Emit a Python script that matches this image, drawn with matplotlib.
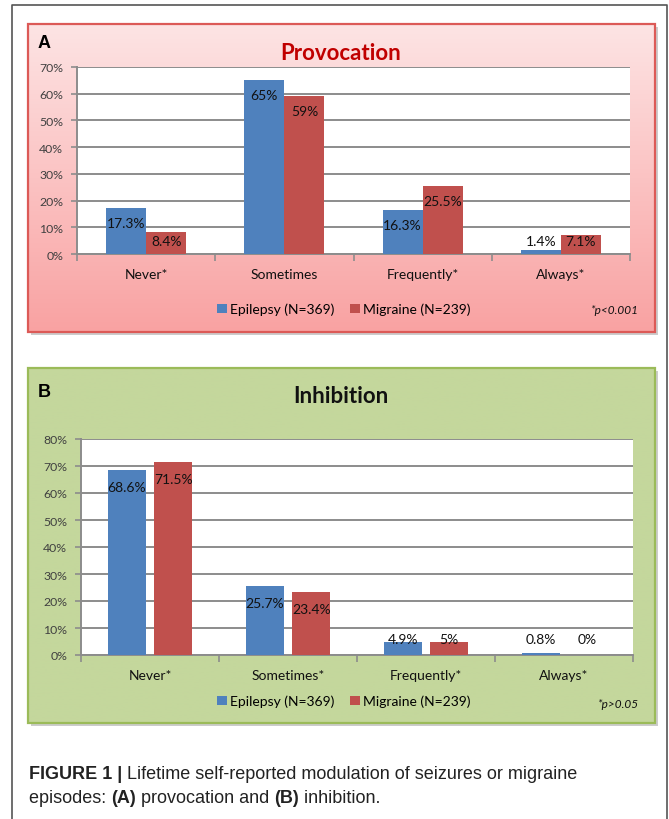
import matplotlib.pyplot as plt
import numpy as np
from matplotlib.patches import Rectangle, Patch
from matplotlib.colors import LinearSegmentedColormap

# data
categories_a = ["Never*", "Sometimes", "Frequently*", "Always*"]
epilepsy_a = [17.3, 65, 16.3, 1.4]
migraine_a = [8.4, 59, 25.5, 7.1]

categories_b = ["Never*", "Sometimes*", "Frequently*", "Always*"]
epilepsy_b = [68.6, 25.7, 4.9, 0.8]
migraine_b = [71.5, 23.4, 5, 0]

series_names = ["Epilepsy (N=369)", "Migraine (N=239)"]

BLUE = "#4f81bd"
RED = "#c0504d"
GRID = "#8c8c8c"
FONT = "Lato"

W, H = 669, 820
fig = plt.figure(figsize=(W / 100, H / 100), dpi=100)


def rect(x0, y0, x1, y1):
    """pixel box (top-left origin) -> figure rect"""
    return [x0 / W, 1 - y1 / H, (x1 - x0) / W, (y1 - y0) / H]


def fx(px):
    return px / W


def fy(py):
    return 1 - py / H


# full-figure helper axes for frame + caption
full = fig.add_axes([0, 0, 1, 1], zorder=-2)
full.set_xlim(0, W)
full.set_ylim(H, 0)
full.axis("off")
full.plot([12, 12, 667, 667], [H + 5, 6, 6, H + 5], color="#555555", lw=1.2)


def panel_box(box, colors, edge):
    x0, y0, x1, y1 = box
    # shadow
    full.add_patch(Rectangle((x0 + 3, y0 + 3), x1 - x0, y1 - y0,
                             fc="#cccccc", ec="none", zorder=1))
    bg = fig.add_axes(rect(*box), zorder=0)
    cmap = LinearSegmentedColormap.from_list("bg", colors)
    bg.imshow(np.linspace(0, 1, 256).reshape(-1, 1), cmap=cmap,
              aspect="auto", extent=[0, 1, 0, 1], origin="upper")
    bg.add_patch(Rectangle((0, 0), 1, 1, transform=bg.transAxes, fill=False,
                           ec=edge, lw=1.6, clip_on=False))
    bg.axis("off")


def bar_panel(plot_box, cats, vals_e, vals_m, ymax, offset, width):
    ax = fig.add_axes(rect(*plot_box), zorder=1)
    ax.set_facecolor("white")
    x = np.arange(len(cats))
    ax.bar(x - offset, vals_e, width, color=BLUE, zorder=3)
    ax.bar(x + offset, vals_m, width, color=RED, zorder=3)
    # data labels, inside end
    for xs, vals in ((x - offset, vals_e), (x + offset, vals_m)):
        for xi, v in zip(xs, vals):
            yl = max(v - 6 * ymax / 75, 5.4 * ymax / 75)
            ax.text(xi, yl, f"{v:g}%", ha="center", va="center",
                    fontsize=10, family=FONT, color="#111111", zorder=4)
    ax.set_xlim(-0.5, len(cats) - 0.5)
    ax.set_ylim(0, ymax)
    ax.set_yticks(np.arange(0, ymax + 1, 10))
    ax.set_yticklabels([f"{t}%" for t in range(0, ymax + 1, 10)])
    ax.yaxis.grid(True, color=GRID, lw=1.4, zorder=0)
    ax.set_axisbelow(True)
    ax.set_xticks(x)
    ax.set_xticklabels(cats)
    ax.set_xticks(np.arange(-0.5, len(cats)), minor=True)
    ax.tick_params(axis="x", which="major", length=0, pad=10, labelsize=10,
                   labelcolor="#111111")
    ax.tick_params(axis="x", which="minor", length=5, color=GRID, width=1.2)
    ax.tick_params(axis="y", length=4, color=GRID, width=1.2, pad=6,
                   labelsize=8.8, labelcolor="#404040")
    for lab in ax.get_xticklabels() + ax.get_yticklabels():
        lab.set_family(FONT)
    for s in ("top", "right"):
        ax.spines[s].set_visible(False)
    for s in ("left", "bottom"):
        ax.spines[s].set_color(GRID)
        ax.spines[s].set_linewidth(1.4)
    return ax


def legend(cx, cy):
    handles = [Patch(fc=BLUE), Patch(fc=RED)]
    fig.legend(handles, series_names, loc="center",
               bbox_to_anchor=(fx(cx), fy(cy)), ncol=2, frameon=False,
               handlelength=0.7, handleheight=0.7, handletextpad=0.25,
               columnspacing=1.1, prop={"family": FONT, "size": 10})


# ------ panel A ------
panel_box((28, 25, 655, 333), ["#fde4e4", "#f9a2a2"], "#dc5a57")
bar_panel((77, 68, 630, 255), categories_a, epilepsy_a, migraine_a, 70,
          0.145, 0.29)
fig.text(fx(38), fy(48), "A", fontsize=13, weight="bold",
         family="Liberation Sans", va="baseline")
fig.text(fx(341), fy(53), "Provocation", fontsize=16, weight="bold",
         family=FONT, color="#c00000", ha="center", va="center")
legend(344, 310)
fig.text(fx(638), fy(311), "*p<0.001", fontsize=8.5, style="italic",
         family=FONT, ha="right", va="center", color="#111111")

# ------ panel B ------
panel_box((28, 369, 655, 724), ["#c4d79c", "#c4d79c"], "#9bbb59")
bar_panel((81, 440, 633, 656), categories_b, epilepsy_b, migraine_b, 80,
          0.168, 0.272)
fig.text(fx(38), fy(397), "B", fontsize=13, weight="bold",
         family="Liberation Sans", va="baseline")
fig.text(fx(341), fy(397), "Inhibition", fontsize=16, weight="bold",
         family=FONT, color="#111111", ha="center", va="center")
legend(344, 702)
fig.text(fx(638), fy(705), "*p>0.05", fontsize=8.5, style="italic",
         family=FONT, ha="right", va="center", color="#111111")

# ------ caption ------
cap = dict(fontsize=13, family=["Liberation Sans Narrow", "Liberation Sans"],
           color="#222222")
t = full.text(29, 779, "FIGURE 1 |", weight="bold", va="baseline", **cap)
full.annotate(" Lifetime self-reported modulation of seizures or migraine",
              xy=(1, 0), xycoords=t, va="bottom", **cap)
t = full.text(29, 803, "episodes: ", va="baseline", **cap)
parts = [("(A)", "bold"), (" provocation and ", "normal"), ("(B)", "bold"),
         (" inhibition.", "normal")]
for s, w in parts:
    t = full.annotate(s, xy=(1, 0), xycoords=t, va="bottom", weight=w, **cap)

fig.savefig("out.png", dpi=100)
